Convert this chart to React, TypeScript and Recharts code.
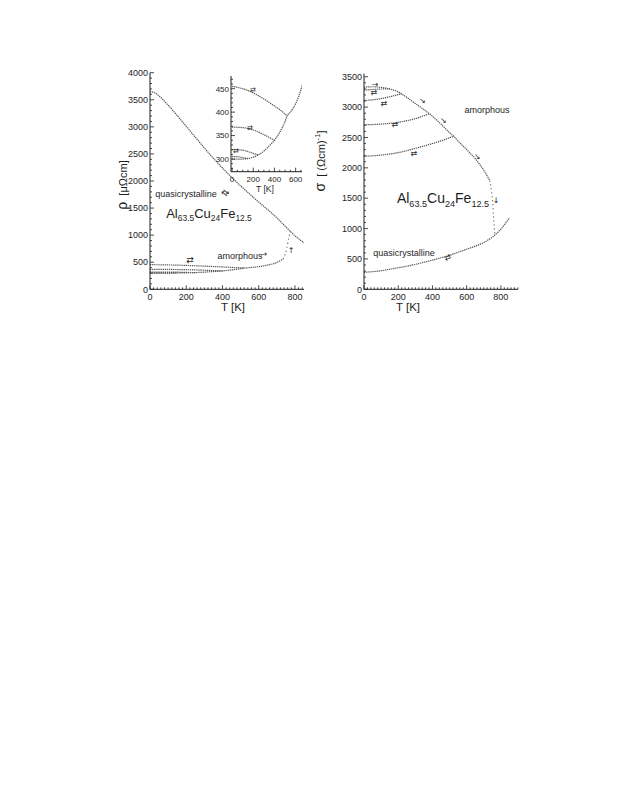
import React from 'react';
import { LineChart, Line, XAxis, YAxis } from 'recharts';

const FONT = '"Liberation Sans", Arial, Helvetica, sans-serif';
const ARROW_FONT = '"DejaVu Sans", sans-serif';
const INK = '#1e1e1e';
const TRACE = '#555555';

// ---- left panel: resistivity rho [µΩcm] against T [K]
const rhoQcT = [0, 25, 50, 100, 150, 200, 250, 300, 350, 400, 450, 500, 550, 600, 650, 700, 750, 800, 850];
const rhoQc = [3650, 3630, 3570, 3400, 3210, 3010, 2810, 2610, 2420, 2240, 2070, 1910, 1760, 1610, 1470, 1320, 1150, 990, 860];

const rhoHeatT = [0, 50, 100, 150, 200, 250, 300, 350, 400, 450, 500, 520, 550, 600, 650, 700, 735];
const rhoHeat = [300, 300, 300, 301, 304, 309, 317, 328, 340, 357, 380, 392, 400, 418, 448, 495, 560];

const rhoCool520T = [0, 100, 200, 300, 400, 450, 500, 520];
const rhoCool520 = [455, 450, 441, 428, 413, 405, 396, 392];
const rhoCool400T = [0, 100, 200, 300, 400];
const rhoCool400 = [368, 367, 362, 352, 340];
const rhoCool250T = [0, 100, 150, 200, 250];
const rhoCool250 = [320, 319, 316, 312, 309];
const rhoCool150T = [0, 50, 100, 150];
const rhoCool150 = [305, 305, 303, 301];
const rhoJumpT = [735, 745, 755, 765, 775];
const rhoJump = [560, 640, 760, 930, 1070];

// ---- right panel: conductivity sigma [(Ωcm)^-1] against T [K]
const sigQcT = [0, 50, 100, 150, 200, 250, 300, 350, 400, 450, 500, 550, 600, 650, 700, 750, 800, 850];
const sigQc = [280, 290, 305, 330, 355, 380, 410, 445, 480, 520, 560, 610, 660, 710, 770, 860, 990, 1180];

const sigHeatT = [0, 50, 100, 150, 200, 250, 300, 350, 400, 450, 500, 525, 550, 600, 650, 700, 735];
const sigHeat = [3330, 3335, 3325, 3300, 3250, 3160, 3060, 2960, 2850, 2720, 2580, 2520, 2440, 2300, 2150, 1960, 1790];

const sigCool525T = [0, 100, 200, 300, 400, 450, 500, 525];
const sigCool525 = [2190, 2210, 2250, 2320, 2400, 2445, 2495, 2520];
const sigCool380T = [0, 100, 200, 300, 380];
const sigCool380 = [2710, 2720, 2750, 2810, 2890];
const sigCool220T = [0, 50, 100, 150, 200, 220];
const sigCool220 = [3110, 3120, 3140, 3170, 3205, 3220];
const sigCool150T = [0, 50, 100, 150];
const sigCool150 = [3280, 3290, 3298, 3300];
const sigJumpT = [735, 745, 752, 758, 765];
const sigJump = [1790, 1620, 1430, 1150, 900];

// ---- tick labels
const tempTicks = [0, 200, 400, 600, 800];
const rhoTicks = [0, 500, 1000, 1500, 2000, 2500, 3000, 3500, 4000];
const sigTicks = [0, 500, 1000, 1500, 2000, 2500, 3000, 3500];
const insetTempTicks = [0, 200, 400, 600];
const insetRhoTicks = [300, 350, 400, 450];

const seq = (from: number, to: number, step: number) => {
  const out: number[] = [];
  for (let v = from; v <= to + 1e-9; v += step) out.push(Math.round(v * 100) / 100);
  return out;
};

const zip = (ts: number[], vs: number[]) => ts.map((t, i) => ({ t, v: vs[i] }));

type Side = 'bottom' | 'left' | 'top' | 'right';

// tick marks point into the frame; labels only on the bottom/left sides
function frameTick(side: Side, majors: number[], label: boolean, fontSize = 9, long = 4, short = 2) {
  return function Tick(props: any) {
    const { x, y, payload } = props;
    const v = payload?.value as number;
    const major = majors.includes(v);
    const len = major ? long : short;
    const s = { stroke: INK, strokeWidth: 0.8 };
    const txt = { fontSize, fontFamily: FONT, fill: INK };
    if (side === 'bottom')
      return (
        <g>
          <line x1={x} y1={y} x2={x} y2={y - len} {...s} />
          {label && major && (
            <text x={x} y={y + fontSize + 2} textAnchor="middle" {...txt}>{v}</text>
          )}
        </g>
      );
    if (side === 'left')
      return (
        <g>
          <line x1={x} y1={y} x2={x + len} y2={y} {...s} />
          {label && major && (
            <text x={x - 2} y={y + fontSize * 0.36} textAnchor="end" {...txt}>{v}</text>
          )}
        </g>
      );
    if (side === 'top') return <line x1={x} y1={y} x2={x} y2={y + len} {...s} />;
    return <line x1={x} y1={y} x2={x - len} y2={y} {...s} />;
  };
}

const trace = (key: string, d: { t: number; v: number }[], dash = '1.3 0.8') => (
  <Line
    key={key}
    data={d}
    dataKey="v"
    type="monotone"
    stroke={TRACE}
    strokeWidth={1.2}
    strokeDasharray={dash}
    dot={false}
    activeDot={false}
    isAnimationActive={false}
  />
);

interface FrameProps {
  xDomain: [number, number];
  yDomain: [number, number];
  xMajor: number[];
  xMinor: number[];
  yMajor: number[];
  yMinor: number[];
  yWidth: number;
  xHeight: number;
  fontSize: number;
}

function frame({ xDomain, yDomain, xMajor, xMinor, yMajor, yMinor, yWidth, xHeight, fontSize }: FrameProps) {
  const common = { type: 'number' as const, allowDataOverflow: true, interval: 0 as const, tickLine: false, tickSize: 0, tickMargin: 0, axisLine: { stroke: INK, strokeWidth: 1 } };
  return [
    <XAxis key="xb" {...common} dataKey="t" domain={xDomain} ticks={xMinor} height={xHeight} tick={frameTick('bottom', xMajor, true, fontSize)} />,
    <XAxis key="xt" {...common} xAxisId="top" orientation="top" dataKey="t" domain={xDomain} ticks={xMinor} height={0} tick={frameTick('top', xMajor, false)} />,
    <YAxis key="yl" {...common} dataKey="v" domain={yDomain} ticks={yMinor} width={yWidth} tick={frameTick('left', yMajor, true, fontSize)} />,
    <YAxis key="yr" {...common} yAxisId="right" orientation="right" dataKey="v" domain={yDomain} ticks={yMinor} width={0} tick={frameTick('right', yMajor, false)} />,
  ];
}

const Note = ({ x, y, size = 9, rotate = 0, font = FONT, children }: { x: number; y: number; size?: number; rotate?: number; font?: string; children: React.ReactNode }) => (
  <div
    style={{
      position: 'absolute',
      left: x - 8,
      top: y - 8,
      transform: `translate(-50%, -50%) rotate(${rotate}deg)`,
      fontFamily: font,
      fontSize: size,
      color: INK,
      whiteSpace: 'nowrap',
      lineHeight: 1,
    }}
  >
    {children}
  </div>
);

const Arrow = ({ x, y, size = 9, rotate = 0, glyph = '⇄' }: { x: number; y: number; size?: number; rotate?: number; glyph?: string }) => (
  <Note x={x} y={y} size={size} rotate={rotate} font={ARROW_FONT}>{glyph}</Note>
);

const Sub = ({ children }: { children: React.ReactNode }) => (
  <span style={{ fontSize: '0.65em', verticalAlign: '-0.4em' }}>{children}</span>
);

const Formula = ({ x, y, size }: { x: number; y: number; size: number }) => (
  <Note x={x} y={y} size={size}>
    Al<Sub>63.5</Sub>Cu<Sub>24</Sub>Fe<Sub>12.5</Sub>
  </Note>
);

export default function App() {
  return (
    <div style={{ position: 'relative', width: 611, height: 795, background: '#fff' }}>
      {/* left: resistivity */}
      <div style={{ position: 'absolute', left: 92, top: 52 }}>
        <LineChart width={220} height={260} margin={{ top: 12.7, right: 16, bottom: 10.7, left: 0 }}>
          {frame({
            xDomain: [0, 850], yDomain: [0, 4000],
            xMajor: tempTicks, xMinor: seq(0, 840, 20),
            yMajor: rhoTicks, yMinor: seq(0, 4000, 100),
            yWidth: 50, xHeight: 20, fontSize: 9,
          })}
          {trace('qc', zip(rhoQcT, rhoQc))}
          {trace('heat', zip(rhoHeatT, rhoHeat))}
          {trace('c520', zip(rhoCool520T, rhoCool520))}
          {trace('c400', zip(rhoCool400T, rhoCool400))}
          {trace('c250', zip(rhoCool250T, rhoCool250))}
          {trace('c150', zip(rhoCool150T, rhoCool150))}
          {trace('jump', zip(rhoJumpT, rhoJump), '1 3')}
        </LineChart>
      </div>

      {/* inset: low-resistivity branch, magnified */}
      <div style={{ position: 'absolute', left: 192, top: 66 }}>
        <LineChart width={105} height={112} margin={{ top: 2, right: 3, bottom: 0, left: 5 }}>
          {frame({
            xDomain: [-10, 660], yDomain: [273, 477],
            xMajor: insetTempTicks, xMinor: seq(0, 650, 50),
            yMajor: insetRhoTicks, yMinor: seq(280, 470, 10),
            yWidth: 26, xHeight: 14.3, fontSize: 8,
          })}
          {trace('heat', zip(rhoHeatT, rhoHeat))}
          {trace('c520', zip(rhoCool520T, rhoCool520))}
          {trace('c400', zip(rhoCool400T, rhoCool400))}
          {trace('c250', zip(rhoCool250T, rhoCool250))}
          {trace('c150', zip(rhoCool150T, rhoCool150))}
        </LineChart>
      </div>

      {/* right: conductivity */}
      <div style={{ position: 'absolute', left: 302, top: 52 }}>
        <LineChart width={220} height={260} margin={{ top: 13.7, right: 12, bottom: 10.7, left: 4 }}>
          {frame({
            xDomain: [0, 900], yDomain: [0, 3550],
            xMajor: tempTicks, xMinor: seq(0, 900, 20),
            yMajor: sigTicks, yMinor: seq(0, 3500, 100),
            yWidth: 50, xHeight: 20, fontSize: 9,
          })}
          {trace('qc', zip(sigQcT, sigQc))}
          {trace('heat', zip(sigHeatT, sigHeat))}
          {trace('c525', zip(sigCool525T, sigCool525))}
          {trace('c380', zip(sigCool380T, sigCool380))}
          {trace('c220', zip(sigCool220T, sigCool220))}
          {trace('c150', zip(sigCool150T, sigCool150))}
          {trace('jump', zip(sigJumpT, sigJump), '1 3')}
        </LineChart>
      </div>

      {/* left annotations */}
      <Note x={122} y={185} size={11} rotate={-90}>
        <span style={{ fontSize: 14 }}>ρ</span>&nbsp;&nbsp;[μΩcm]
      </Note>
      <Note x={233} y={308} size={11.5}>T [K]</Note>
      <Note x={265} y={189} size={8.5}>T [K]</Note>
      <Note x={186} y={194}>quasicrystalline</Note>
      <Formula x={209} y={215} size={13} />
      <Note x={240} y={256}>amorphous</Note>
      <Arrow x={225} y={193} rotate={40} />
      <Arrow x={190} y={260} />
      <Arrow x={264} y={255} size={8} rotate={-15} glyph="→" />
      <Arrow x={291} y={251} size={8} glyph="↑" />
      <Arrow x={253} y={90} size={7} />
      <Arrow x={250} y={128} size={7} />
      <Arrow x={236} y={151} size={7} />

      {/* right annotations */}
      <Note x={320} y={161} size={11} rotate={-90}>
        <span style={{ fontSize: 14 }}>σ</span>&nbsp;&nbsp;[ (Ωcm)<sup style={{ fontSize: '0.7em' }}>-1</sup>]
      </Note>
      <Note x={408} y={308} size={11.5}>T [K]</Note>
      <Note x={487} y={110}>amorphous</Note>
      <Formula x={443} y={200} size={14} />
      <Note x={404} y={253}>quasicrystalline</Note>
      <Arrow x={375} y={85} size={8} glyph="→" />
      <Arrow x={374} y={93} size={8} />
      <Arrow x={384} y={104} size={8} />
      <Arrow x={422} y={101} size={8} rotate={40} glyph="→" />
      <Arrow x={395} y={125} size={8} />
      <Arrow x={443} y={121} size={8} rotate={45} glyph="→" />
      <Arrow x={414} y={154} size={8} />
      <Arrow x={477} y={157} size={8} rotate={50} glyph="→" />
      <Arrow x={496} y={201} size={8} glyph="↓" />
      <Arrow x={448} y={258} size={8} rotate={-20} />
    </div>
  );
}
